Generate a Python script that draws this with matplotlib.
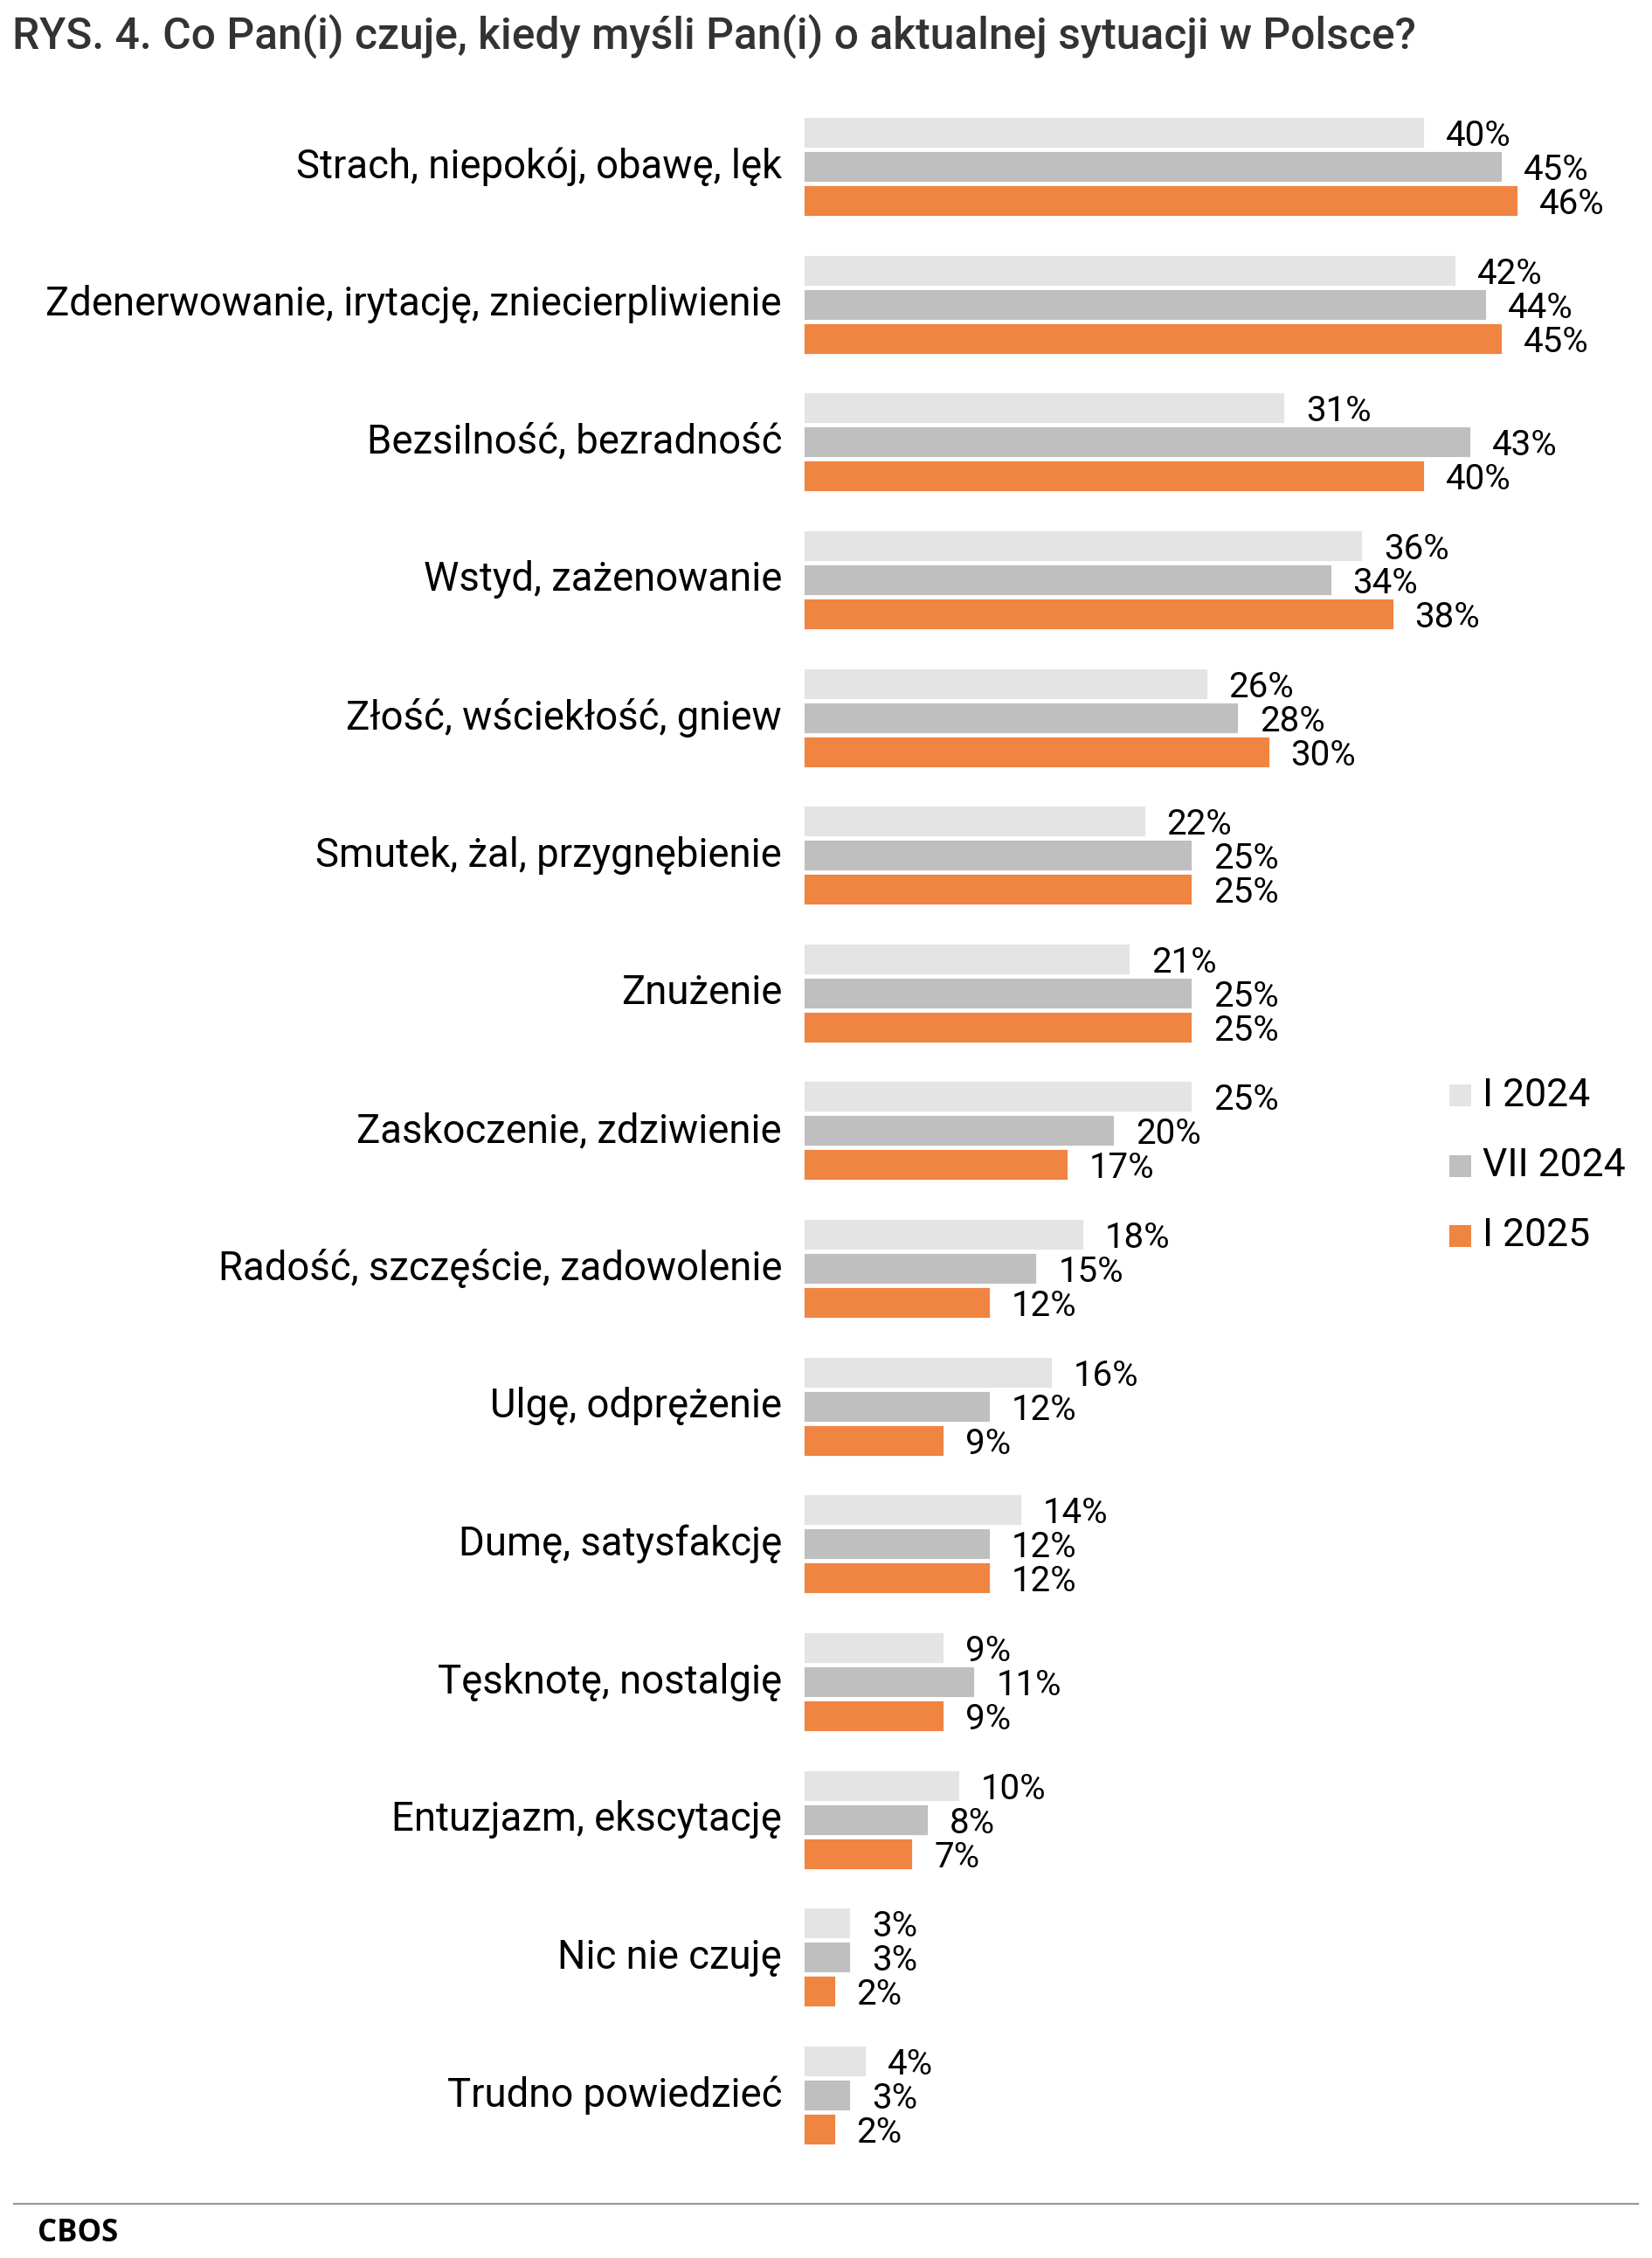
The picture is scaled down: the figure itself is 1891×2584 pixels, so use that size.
import matplotlib
matplotlib.use("Agg")
import matplotlib.pyplot as plt
from matplotlib.patches import Rectangle
from matplotlib.lines import Line2D
import numpy as np

plt.rcParams['font.family'] = ['Roboto', 'DejaVu Sans']

title = "RYS. 4. Co Pan(i) czuje, kiedy myśli Pan(i) o aktualnej sytuacji w Polsce?"
categories = [
    "Strach, niepokój, obawę, lęk",
    "Zdenerwowanie, irytację, zniecierpliwienie",
    "Bezsilność, bezradność",
    "Wstyd, zażenowanie",
    "Złość, wściekłość, gniew",
    "Smutek, żal, przygnębienie",
    "Znużenie",
    "Zaskoczenie, zdziwienie",
    "Radość, szczęście, zadowolenie",
    "Ulgę, odprężenie",
    "Dumę, satysfakcję",
    "Tęsknotę, nostalgię",
    "Entuzjazm, ekscytację",
    "Nic nie czuję",
    "Trudno powiedzieć",
]
series_names = ["I 2024", "VII 2024", "I 2025"]
i2024 = [40, 42, 31, 36, 26, 22, 21, 25, 18, 16, 14, 9, 10, 3, 4]
vii2024 = [45, 44, 43, 34, 28, 25, 25, 20, 15, 12, 12, 11, 8, 3, 3]
i2025 = [46, 45, 40, 38, 30, 25, 25, 17, 12, 9, 12, 9, 7, 2, 2]
colors = ["#E4E4E4", "#BFBFBF", "#F08441"]

W, H = 1891, 2584
DPI = 100
fig = plt.figure(figsize=(W / DPI, H / DPI), dpi=DPI)

# axes geometry (pixels)
ax_left, ax_right = 920, 1850
ax_top, ax_bot = 100, 2480
px_per_unit_x = 17.75
group_pitch = 157.64
first_center = 190.5
ax = fig.add_axes([ax_left / W, 1 - ax_bot / H, (ax_right - ax_left) / W, (ax_bot - ax_top) / H])
ax.set_xlim(0, (ax_right - ax_left) / px_per_unit_x)
ax.set_ylim((ax_bot - first_center) / group_pitch, (ax_top - first_center) / group_pitch)

bar_h = 35 / group_pitch
offs = 39 / group_pitch
y = np.arange(len(categories))
all_series = [i2024, vii2024, i2025]
for k, (vals, col) in enumerate(zip(all_series, colors)):
    yy = y + (k - 1) * offs
    ax.barh(yy, vals, height=bar_h, color=col, edgecolor='white', linewidth=0.6)
    for yv, v in zip(yy, vals):
        ax.annotate(f"{v}%", xy=(v, yv), xytext=(25 * 72 / DPI, 0), textcoords='offset points',
                    ha='left', va='center_baseline', fontsize=29, color='black')

ax.set_yticks(y)
ax.set_yticklabels(categories, fontsize=32.8, color='black', va='center')
ax.tick_params(axis='y', length=0, pad=25 * 72 / DPI)
ax.set_xticks([])
for s in ax.spines.values():
    s.set_visible(False)

# title
fig.text(14 / W, 1 - 57 / H, title, fontsize=35.8, fontweight='medium', color='#333333',
         ha='left', va='baseline')

# legend (manual)
leg_centers = [1254, 1334, 1414]
for name, col, cy in zip(series_names, colors, leg_centers):
    fig.patches.append(Rectangle((1659 / W, 1 - (cy + 12.5) / H), 25 / W, 25 / H,
                                 transform=fig.transFigure, facecolor=col, edgecolor='none'))
    fig.text(1697 / W, 1 - (cy + 12.5) / H, name, fontsize=32, color='black',
             ha='left', va='baseline')

# footer
fig.add_artist(Line2D([16 / W, 1875 / W], [1 - 2522 / H, 1 - 2522 / H], transform=fig.transFigure,
                      color='#999999', linewidth=1.6))
fig.text(43 / W, 1 - 2565 / H, "CBOS", fontsize=25, fontweight='bold', family=['Open Sans', 'DejaVu Sans'],
         color='black', ha='left', va='baseline')

fig.savefig("out.png", dpi=DPI, facecolor='white')
